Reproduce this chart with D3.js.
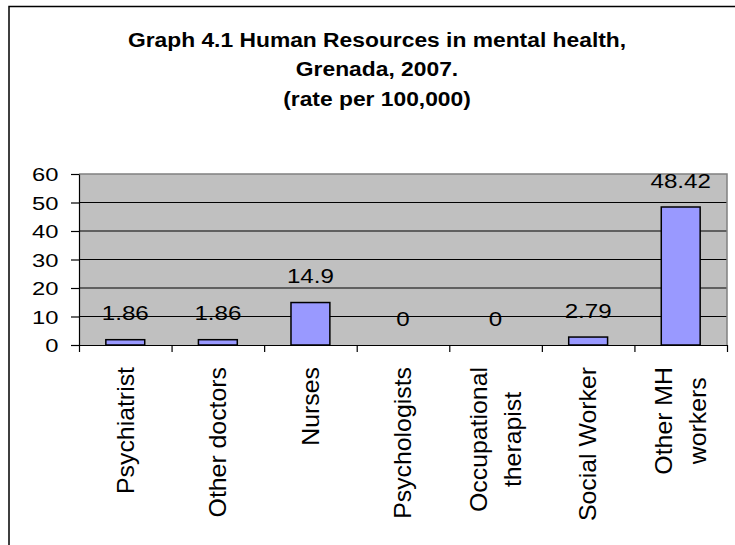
<!DOCTYPE html>
<html>
<head>
<meta charset="utf-8">
<script src="https://cdn.jsdelivr.net/npm/d3@7"></script>
<style>
  body { margin: 0; background: #fff; }
  svg { display: block; }
  text { font-family: "Liberation Sans", Arial, sans-serif; fill: #000; }
</style>
</head>
<body>
<svg id="chart" width="735" height="545"></svg>
<script>
// chart data
var titleLines = ["Graph 4.1 Human Resources in mental health,", "Grenada, 2007.", "(rate per 100,000)"]
var categories = [["Psychiatrist"], ["Other doctors"], ["Nurses"], ["Psychologists"],
                  ["Occupational", "therapist"], ["Social Worker"], ["Other MH", "workers"]]
var values = [1.86, 1.86, 14.9, 0, 0, 2.79, 48.42]
var valueLabels = ["1.86", "1.86", "14.9", "0", "0", "2.79", "48.42"]
var yTicks = [0, 10, 20, 30, 40, 50, 60]

var svg = d3.select("#chart")
var plot = {left: 79, right: 727, top: 174, bottom: 345}

// outer frame (runs off the right and bottom of the window)
svg.append("rect")
	.attr("x", 9).attr("y", 6.5)
	.attr("width", 800).attr("height", 600)
	.attr("fill", "none").attr("stroke", "#000").attr("stroke-width", 1.5)

// title
svg.append("g").selectAll("text")
	.data(titleLines)
	.join("text")
	.attr("transform", function(d, i) { return "translate(377," + (46.5 + i * 29.5) + ") scale(1.17,1)" })
	.attr("text-anchor", "middle")
	.attr("font-weight", "bold")
	.attr("font-size", 19.5)
	.text(function(d) { return d })

var y = d3.scaleLinear().domain([0, 60]).range([plot.bottom, plot.top])
var xb = d3.scaleBand().domain(d3.range(values.length)).range([plot.left, plot.right])
	.paddingInner(0.58).paddingOuter(0.29)
var xc = d3.scaleBand().domain(d3.range(values.length)).range([plot.left, plot.right])
var xt = d3.scaleLinear().domain([0, values.length]).range([plot.left, plot.right])

// plot background
svg.append("rect")
	.attr("x", plot.left).attr("y", plot.top)
	.attr("width", plot.right - plot.left).attr("height", plot.bottom - plot.top)
	.attr("fill", "#c0c0c0")

// grid
svg.append("g").selectAll("line")
	.data(yTicks.filter(function(d) { return d > 0 && d < 60 }))
	.join("line")
	.attr("x1", plot.left).attr("x2", plot.right)
	.attr("y1", function(d) { return y(d) }).attr("y2", function(d) { return y(d) })
	.attr("stroke", "#000").attr("stroke-width", 1)

// plot border, top and right
svg.append("path")
	.attr("d", "M" + plot.left + "," + plot.top + "H" + plot.right + "V" + plot.bottom)
	.attr("fill", "none").attr("stroke", "#808080").attr("stroke-width", 1.5)

// bars
svg.append("g").selectAll("rect")
	.data(values)
	.join("rect")
	.attr("x", function(d, i) { return xb(i) })
	.attr("width", xb.bandwidth())
	.attr("y", function(d) { return y(d) })
	.attr("height", function(d) { return y(0) - y(d) })
	.attr("fill", "#9999ff")
	.attr("stroke", "#000").attr("stroke-width", 1.5)
	.attr("display", function(d) { return d > 0 ? null : "none" })

// value labels
svg.append("g").selectAll("text")
	.data(values)
	.join("text")
	.attr("transform", function(d, i) {
		return "translate(" + (xc(i) + xc.bandwidth() / 2) + "," + (y(d) - 19.5) + ") scale(1.15,1)"
	})
	.attr("text-anchor", "middle")
	.attr("font-size", 21)
	.text(function(d, i) { return valueLabels[i] })

// y axis
var yAxis = svg.append("g")
	.attr("transform", "translate(" + plot.left + ",0)")
	.call(d3.axisLeft(y).tickValues(yTicks).tickSize(8).tickSizeOuter(0).tickFormat(""))
yAxis.selectAll("line, path").attr("stroke", "#000").attr("stroke-width", 1.2)

svg.append("g").selectAll("text")
	.data(yTicks)
	.join("text")
	.attr("transform", function(d) { return "translate(58.5," + (y(d) + 7) + ") scale(1.25,1)" })
	.attr("text-anchor", "end")
	.attr("font-size", 19)
	.text(function(d) { return d })

// x axis
var xAxis = svg.append("g")
	.attr("transform", "translate(0," + plot.bottom + ")")
	.call(d3.axisBottom(xt).tickValues(d3.range(values.length + 1)).tickSize(7).tickSizeOuter(0).tickFormat(""))
xAxis.selectAll("line, path").attr("stroke", "#000").attr("stroke-width", 1.2)

// category labels, rotated
var labelTop = 367
var labelSize = 23
var labelScale = 1.08
var lineGap = 34
var capHalf = 8.3

var cats = svg.append("g").selectAll("g")
	.data(categories)
	.join("g")

cats.each(function(lines, i) {
	var g = d3.select(this)
	var cx = xc(i) + xc.bandwidth() / 2
	var texts = g.selectAll("text")
		.data(lines)
		.join("text")
		.attr("font-size", labelSize)
		.text(function(d) { return d })
	var maxLen = 0
	texts.each(function() { maxLen = Math.max(maxLen, this.getComputedTextLength() * labelScale) })
	var mid = labelTop + maxLen / 2
	texts
		.attr("text-anchor", "middle")
		.attr("transform", function(d, j) {
			var bx = cx + capHalf + (j - (lines.length - 1) / 2) * lineGap
			return "translate(" + bx + "," + mid + ") rotate(-90) scale(" + labelScale + ",1)"
		})
})
</script>
</body>
</html>
